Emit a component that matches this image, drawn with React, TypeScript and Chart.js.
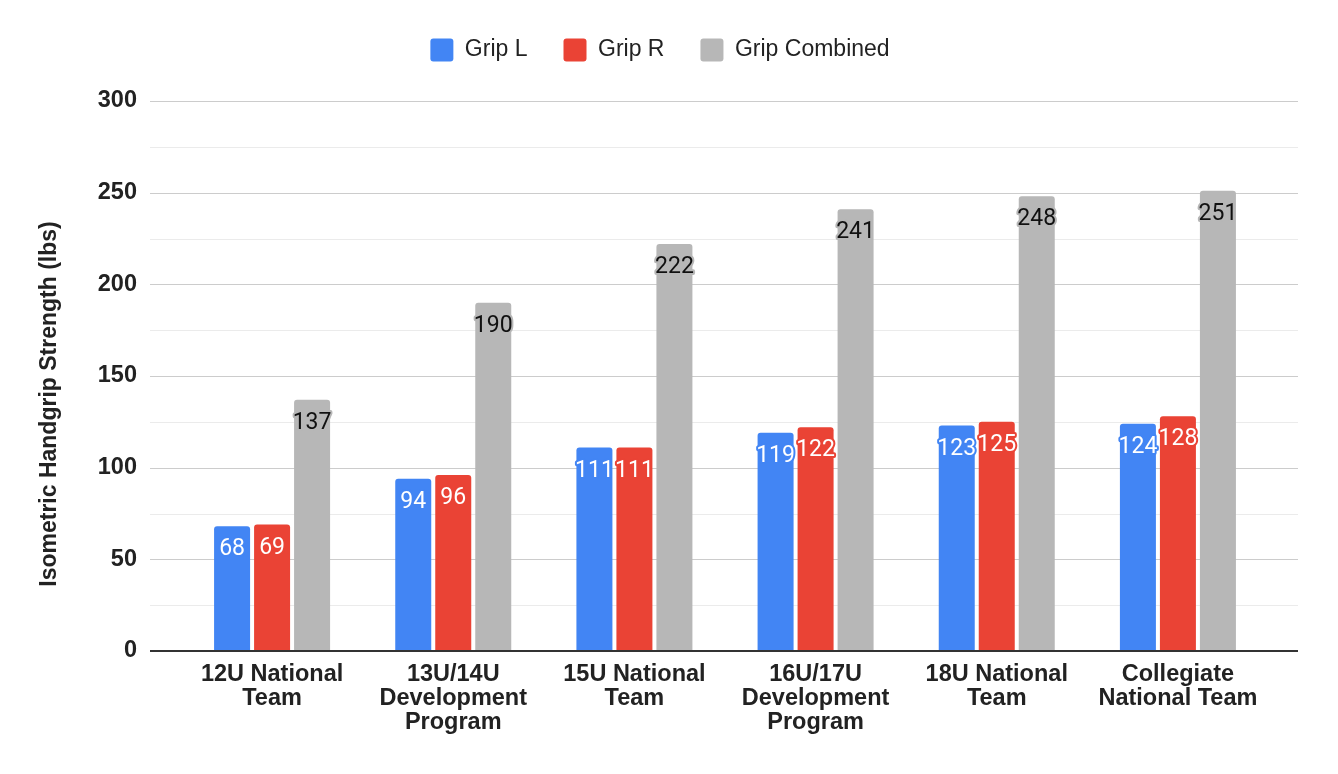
import { useEffect, useRef } from 'react';
import { Chart, registerables } from 'chart.js';

Chart.register(...registerables);

const categories: string[][] = [
  ['12U National', 'Team'],
  ['13U/14U', 'Development', 'Program'],
  ['15U National', 'Team'],
  ['16U/17U', 'Development', 'Program'],
  ['18U National', 'Team'],
  ['Collegiate', 'National Team'],
];
const gripL = [68, 94, 111, 119, 123, 124];
const gripR = [69, 96, 111, 122, 125, 128];
const gripCombined = [137, 190, 222, 241, 248, 251];
const seriesNames = ['Grip L', 'Grip R', 'Grip Combined'];
const seriesColors = ['#4285F4', '#EA4335', '#B7B7B7'];
const labelColors = ['#ffffff', '#ffffff', '#111111'];
const yMin = 0;
const yMax = 300;
const yStep = 25;
const yLabelStep = 50;
const yTitle = 'Isometric Handgrip Strength (lbs)';

const FONT = '"Liberation Sans", Arial, Helvetica, sans-serif';

const gridPlugin = {
  id: 'extendedGrid',
  beforeDatasetsDraw(chart: any) {
    const { ctx, chartArea } = chart;
    const y = chart.scales.y;
    const x0 = chartArea.left - 31.5;
    const x1 = chartArea.right + 29.5;
    ctx.save();
    ctx.lineWidth = 1;
    y.ticks.forEach((t: any) => {
      if (t.value === yMin) return;
      const py = Math.round(y.getPixelForValue(t.value)) + 0.5;
      ctx.strokeStyle = t.value % yLabelStep === 0 ? '#cccccc' : '#ebebeb';
      ctx.beginPath();
      ctx.moveTo(x0, py);
      ctx.lineTo(x1, py);
      ctx.stroke();
    });
    ctx.restore();
  },
  afterDatasetsDraw(chart: any) {
    const { ctx, chartArea } = chart;
    const y = chart.scales.y;
    const x0 = chartArea.left - 31.5;
    const x1 = chartArea.right + 29.5;
    const py = y.getPixelForValue(yMin);
    ctx.save();
    ctx.strokeStyle = '#333333';
    ctx.lineWidth = 2;
    ctx.beginPath();
    ctx.moveTo(x0, py);
    ctx.lineTo(x1, py);
    ctx.stroke();

    ctx.font = '23px Roboto';
    ctx.textAlign = 'center';
    ctx.textBaseline = 'alphabetic';
    ctx.lineJoin = 'round';
    ctx.lineWidth = 4;
    chart.data.datasets.forEach((ds: any, i: number) => {
      const meta = chart.getDatasetMeta(i);
      meta.data.forEach((el: any, j: number) => {
        const text = String(ds.data[j]);
        const tx = el.x;
        const ty = el.y + 29;
        ctx.strokeStyle = seriesColors[i];
        ctx.strokeText(text, tx, ty);
        ctx.fillStyle = labelColors[i];
        ctx.fillText(text, tx, ty);
      });
    });
    ctx.restore();
  },
  afterDraw(chart: any) {
    const { ctx } = chart;
    ctx.save();
    ctx.translate(50, 404);
    ctx.rotate(-Math.PI / 2);
    ctx.font = `bold 23px ${FONT}`;
    ctx.fillStyle = '#222222';
    ctx.textAlign = 'center';
    ctx.textBaseline = 'middle';
    ctx.fillText(yTitle, 0, 0);
    ctx.restore();
  },
};

export default function App() {
  const canvasRef = useRef<HTMLCanvasElement | null>(null);

  useEffect(() => {
    document.body.style.margin = '0';
    const canvas = canvasRef.current;
    if (!canvas) return;
    const seriesData = [gripL, gripR, gripCombined];
    const chart = new Chart(canvas, {
      type: 'bar',
      data: {
        labels: categories,
        datasets: seriesData.map((d, i) => ({
          label: seriesNames[i],
          data: d,
          backgroundColor: seriesColors[i],
          borderColor: seriesColors[i],
          borderWidth: 0,
          borderRadius: 3,
          borderSkipped: 'bottom',
          categoryPercentage: 0.6624,
          barPercentage: 0.9,
        })),
      },
      options: {
        animation: false,
        responsive: true,
        maintainAspectRatio: false,
        events: [],
        layout: { padding: { top: 2.5, left: 51.5, right: 69.5, bottom: 0 } },
        plugins: {
          tooltip: { enabled: false },
          legend: {
            display: true,
            position: 'top',
            align: 'center',
            labels: {
              boxWidth: 23,
              boxHeight: 23,
              padding: 36,
              useBorderRadius: true,
              borderRadius: 3,
              color: '#222222',
              font: { family: FONT, size: 23 },
            },
          },
          subtitle: {
            display: true,
            text: ' ',
            position: 'top',
            weight: 500,
            font: { size: 10, lineHeight: 1 },
            padding: { top: 19.5, bottom: 0 },
          },
        },
        scales: {
          x: {
            type: 'category',
            offset: true,
            grid: { display: false, drawTicks: false },
            border: { display: false },
            ticks: {
              padding: 12,
              autoSkip: false,
              maxRotation: 0,
              minRotation: 0,
              color: '#222222',
              font: { family: FONT, size: 23.5, weight: 'bold', lineHeight: 1.01 },
            },
            afterFit: (s: any) => {
              s.height = 123;
            },
          },
          y: {
            type: 'linear',
            min: yMin,
            max: yMax,
            grid: { display: false, drawTicks: false },
            border: { display: false },
            ticks: {
              stepSize: yStep,
              autoSkip: false,
              padding: 44.5,
              color: '#222222',
              font: { family: FONT, size: 23.5, weight: 'bold' },
              callback: (v: any) => (Number(v) % yLabelStep === 0 ? String(v) : ''),
            },
            afterFit: (s: any) => {
              s.width = 130;
            },
          },
        },
      },
      plugins: [gridPlugin],
    } as any);
    return () => chart.destroy();
  }, []);

  return (
    <div style={{ width: '1338px', height: '774px', position: 'relative' }}>
      <canvas ref={canvasRef} />
    </div>
  );
}
